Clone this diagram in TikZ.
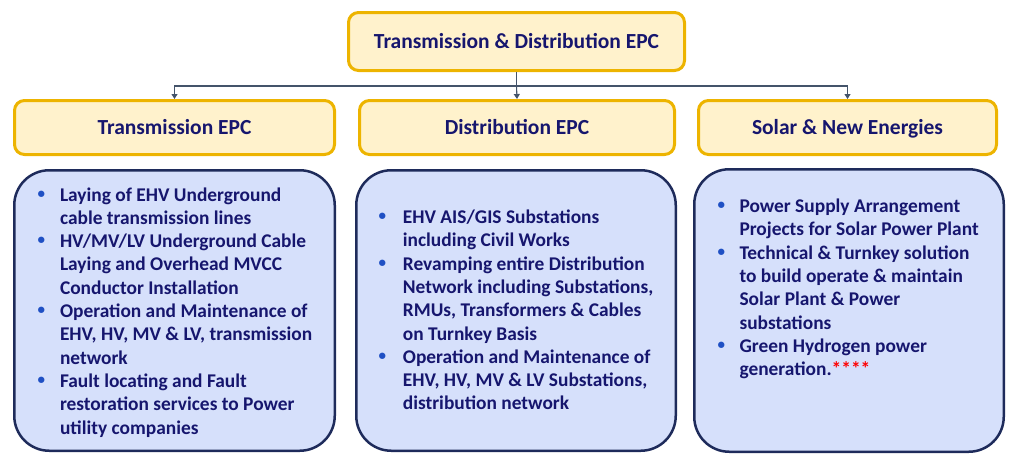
\documentclass[tikz,border=0pt]{standalone}
\usepackage{fontspec}
\setmainfont{Carlito}
\usetikzlibrary{arrows.meta}
\definecolor{hdrfill}{HTML}{FFF2CC}
\definecolor{hdrline}{HTML}{EDB400}
\definecolor{boxfill}{HTML}{D6E0FB}
\definecolor{boxline}{HTML}{1E2B5B}
\definecolor{txt}{HTML}{16166E}
\definecolor{bul}{HTML}{1F50C4}
\definecolor{conn}{HTML}{44546A}
\newcommand\bpt{\textcolor{bul}{\fontsize{15}{15}\selectfont\raisebox{3pt}{•}}}
\tikzset{
  hdr/.style={draw=hdrline, line width=3pt, fill=hdrfill, rounded corners=10pt,
    text=txt, font=\fontsize{21.5}{26}\selectfont\bfseries,
    text height=13.6pt, text depth=0pt, inner sep=0pt},
  panel/.style={draw=boxline, line width=2.5pt, fill=boxfill, rounded corners=35pt, inner sep=0pt},
  list/.style={anchor=base west, inner sep=0pt, text=txt, font=\fontsize{19.4}{23.3}\selectfont\bfseries},
  wire/.style={draw=conn, line width=1.1pt},
  link/.style={wire, -{Triangle[length=5pt,width=6pt]}}
}
\begin{document}
\begin{tikzpicture}[x=1pt,y=-1pt]
\useasboundingbox (0,0) rectangle (1024,463);
% headers
\node[hdr, minimum width=336pt, minimum height=58pt] (top) at (516.5,41.5) {Transmission \& Distribution EPC};
\node[hdr, minimum width=320pt, minimum height=54pt] (t1) at (174.5,127.5) {Transmission EPC};
\node[hdr, minimum width=315pt, minimum height=54pt] (t2) at (517,127.5) {Distribution EPC};
\node[hdr, minimum width=298pt, minimum height=54pt] (t3) at (847.5,127.5) {Solar \& New Energies};
% panels
\node[panel, minimum width=320.5pt, minimum height=280.5pt] (b1) at (174.5,310.5) {};
\node[panel, minimum width=319.5pt, minimum height=280.5pt] (b2) at (516,310.5) {};
\node[panel, minimum width=309.5pt, minimum height=282.5pt] (b3) at (849,310.5) {};
% connectors
\coordinate (bus) at (516.5,86);
\draw[wire] (top.south) -- (bus);
\draw[link] (bus) -| (t1.north);
\draw[link] (bus) -- (t2.north);
\draw[link] (bus) -| (t3.north);
% lists
\node[list] (l1) at (37.5,201) {\begin{tabular}[t]{@{}p{22.3pt}@{}l@{}}
\bpt & Laying of EHV Underground\\
 & cable transmission lines\\
\bpt & HV/MV/LV Underground Cable\\
 & Laying and Overhead MVCC\\
 & Conductor Installation\\
\bpt & Operation and Maintenance of\\
 & EHV, HV, MV \& LV, transmission\\
 & network\\
\bpt & Fault locating and Fault\\
 & restoration services to Power\\
 & utility companies
\end{tabular}};
\node[list] (l2) at (378.3,223.5) {\begin{tabular}[t]{@{}p{24.4pt}@{}l@{}}
\bpt & EHV AIS/GIS Substations\\
 & including Civil Works\\
\bpt & Revamping entire Distribution\\
 & Network including Substations,\\
 & RMUs, Transformers \& Cables\\
 & on Turnkey Basis\\
\bpt & Operation and Maintenance of\\
 & EHV, HV, MV \& LV Substations,\\
 & distribution network
\end{tabular}};
\node[list] (l3) at (717.3,212.5) {\begin{tabular}[t]{@{}p{22pt}@{}l@{}}
\bpt & Power Supply Arrangement\\
 & Projects for Solar Power Plant\\
\bpt & Technical \& Turnkey solution\\
 & to build operate \& maintain\\
 & Solar Plant \& Power\\
 & substations\\
\bpt & Green Hydrogen power\\
 & generation.\textcolor{red}{****}
\end{tabular}};
\end{tikzpicture}
\end{document}
